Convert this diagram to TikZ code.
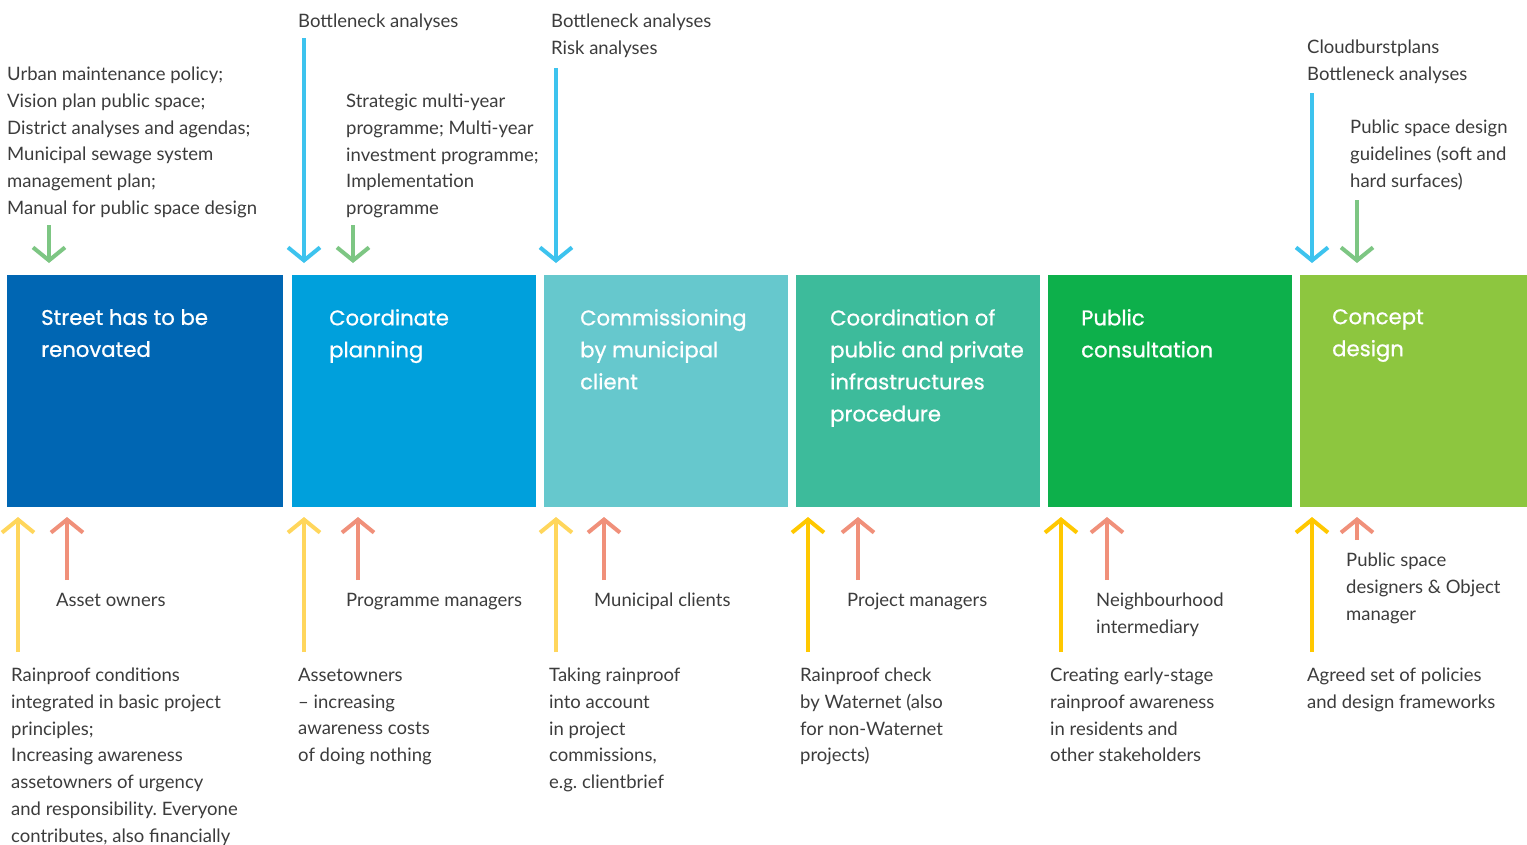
\documentclass[tikz,border=0pt]{standalone}
\usepackage{fontspec}
\setmainfont{Lato}
\newfontfamily\headfont{Poppins}[FakeBold=0.8]
\usetikzlibrary{arrows.meta,positioning}
\frenchspacing

\definecolor{streetblue}{HTML}{0066B3}
\definecolor{planblue}{HTML}{00A0DC}
\definecolor{clientteal}{HTML}{66C8CD}
\definecolor{infragreen}{HTML}{3DBB9B}
\definecolor{publicgreen}{HTML}{0DB04B}
\definecolor{conceptgreen}{HTML}{8DC63F}
\definecolor{skyarrow}{HTML}{3DC3EE}
\definecolor{leafarrow}{HTML}{7DC683}
\definecolor{salmonarrow}{HTML}{F0907A}
\definecolor{paleyellow}{HTML}{FFD65C}
\definecolor{sunyellow}{HTML}{FFC800}
\definecolor{notegray}{HTML}{3C3C3C}

\begin{document}
\begin{tikzpicture}[x=1pt,y=-1pt,
    stage/.style={fill=#1, draw=none, anchor=north west, inner sep=0pt, outer sep=0pt, minimum height=232pt},
    headline/.style={anchor=north west, align=left, inner sep=0pt, text=white, font=\headfont\fontsize{21.2}{32}\selectfont},
    note/.style={anchor=north west, align=left, inner sep=0pt, text=notegray, font=\fontsize{18.5}{26.7}\selectfont},
    flow/.style={draw=#1, line width=4pt, -{Straight Barb[length=13pt,width=32pt]}}]
  \useasboundingbox (0,0) rectangle (1527,844);

  % stages
  \node[stage=streetblue, minimum width=276pt] (b1) at (7,275) {};
  \node[stage=planblue, minimum width=244pt] (b2) at (292,275) {};
  \node[stage=clientteal, minimum width=244pt] (b3) at (544,275) {};
  \node[stage=infragreen, minimum width=244pt] (b4) at (796,275) {};
  \node[stage=publicgreen, minimum width=244pt] (b5) at (1048,275) {};
  \node[stage=conceptgreen, minimum width=227pt] (b6) at (1300,275) {};

  \node[headline] (h1) at ([shift={(34,34)}]b1.north west) {Street has to be\\renovated};
  \node[headline] (h2) at ([shift={(37,34)}]b2.north west) {Coordinate\\planning};
  \node[headline] (h3) at ([shift={(36,34)}]b3.north west) {Commissioning\\by municipal\\client};
  \node[headline] (h4) at ([shift={(34,34)}]b4.north west) {Coordination of\\public and private\\infrastructures\\procedure};
  \node[headline] (h5) at ([shift={(33,34)}]b5.north west) {Public\\consultation};
  \node[headline] (h6) at ([shift={(32,34)}]b6.north west) {Concept\\design};

  % inputs above
  \node[note] (in1) at (7,67) {Urban maintenance policy;\\Vision plan public space;\\District analyses and agendas;\\Municipal sewage system\\management plan;\\Manual for public space design};
  \node[note] (bn2) at (298,14) {Bottleneck analyses};
  \node[note] (in2) at (346,94) {Strategic multi-year\\programme; Multi-year\\investment programme;\\Implementation\\programme};
  \node[note] (bn3) at (551,14) {Bottleneck analyses\\Risk analyses};
  \node[note] (bn6) at (1307,40) {Cloudburstplans\\Bottleneck analyses};
  \node[note] (in6) at (1350,120) {Public space design\\guidelines (soft and\\hard surfaces)};

  % actors and outcomes below
  \node[note] (ac1) at (56,593) {Asset owners};
  \node[note] (ac2) at (346,593) {Programme managers};
  \node[note] (ac3) at (594,593) {Municipal clients};
  \node[note] (ac4) at (847,593) {Project managers};
  \node[note] (ac5) at (1096,593) {Neighbourhood\\intermediary};
  \node[note] (ac6) at (1346,553) {Public space\\designers \& Object\\manager};

  \node[note] (out1) at (11,668) {Rainproof conditions\\integrated in basic project\\principles;\\Increasing awareness\\assetowners of urgency\\and responsibility. Everyone\\contributes, also financially};
  \node[note] (out2) at (298,668) {Assetowners\\-- increasing\\awareness costs\\of doing nothing};
  \node[note] (out3) at (549,668) {Taking rainproof\\into account\\in project\\commissions,\\e.g. clientbrief};
  \node[note] (out4) at (800,668) {Rainproof check\\by Waternet (also\\for non-Waternet\\projects)};
  \node[note] (out5) at (1050,668) {Creating early-stage\\rainproof awareness\\in residents and\\other stakeholders};
  \node[note] (out6) at (1307,668) {Agreed set of policies\\and design frameworks};

  % arrow tails
  \coordinate (g1) at (49,225);
  \coordinate (s2) at (304,38);
  \coordinate (g2) at (353,225);
  \coordinate (s3) at (556,68);
  \coordinate (s6) at (1312,93);
  \coordinate (g6) at (1357,200);
  \coordinate (y1) at (18,652);
  \coordinate (y2) at (304,652);
  \coordinate (y3) at (556,652);
  \coordinate (y4) at (808,652);
  \coordinate (y5) at (1061,652);
  \coordinate (y6) at (1312,652);
  \coordinate (r1) at (67,580);
  \coordinate (r2) at (358,580);
  \coordinate (r3) at (604,580);
  \coordinate (r4) at (858,580);
  \coordinate (r5) at (1107,580);
  \coordinate (r6) at (1357,540);

  \draw[flow=leafarrow, shorten >=12pt] (g1) -- (g1 |- b1.north);
  \draw[flow=skyarrow, shorten >=12pt] (s2) -- (s2 |- b2.north);
  \draw[flow=leafarrow, shorten >=12pt] (g2) -- (g2 |- b2.north);
  \draw[flow=skyarrow, shorten >=12pt] (s3) -- (s3 |- b3.north);
  \draw[flow=skyarrow, shorten >=12pt] (s6) -- (s6 |- b6.north);
  \draw[flow=leafarrow, shorten >=12pt] (g6) -- (g6 |- b6.north);

  \draw[flow=paleyellow, shorten >=10pt] (y1) -- (y1 |- b1.south);
  \draw[flow=paleyellow, shorten >=10pt] (y2) -- (y2 |- b2.south);
  \draw[flow=paleyellow, shorten >=10pt] (y3) -- (y3 |- b3.south);
  \draw[flow=sunyellow, shorten >=10pt] (y4) -- (y4 |- b4.south);
  \draw[flow=sunyellow, shorten >=10pt] (y5) -- (y5 |- b5.south);
  \draw[flow=sunyellow, shorten >=10pt] (y6) -- (y6 |- b6.south);

  \draw[flow=salmonarrow, shorten >=10pt] (r1) -- (r1 |- b1.south);
  \draw[flow=salmonarrow, shorten >=10pt] (r2) -- (r2 |- b2.south);
  \draw[flow=salmonarrow, shorten >=10pt] (r3) -- (r3 |- b3.south);
  \draw[flow=salmonarrow, shorten >=10pt] (r4) -- (r4 |- b4.south);
  \draw[flow=salmonarrow, shorten >=10pt] (r5) -- (r5 |- b5.south);
  \draw[flow=salmonarrow, shorten >=10pt] (r6) -- (r6 |- b6.south);
\end{tikzpicture}
\end{document}
